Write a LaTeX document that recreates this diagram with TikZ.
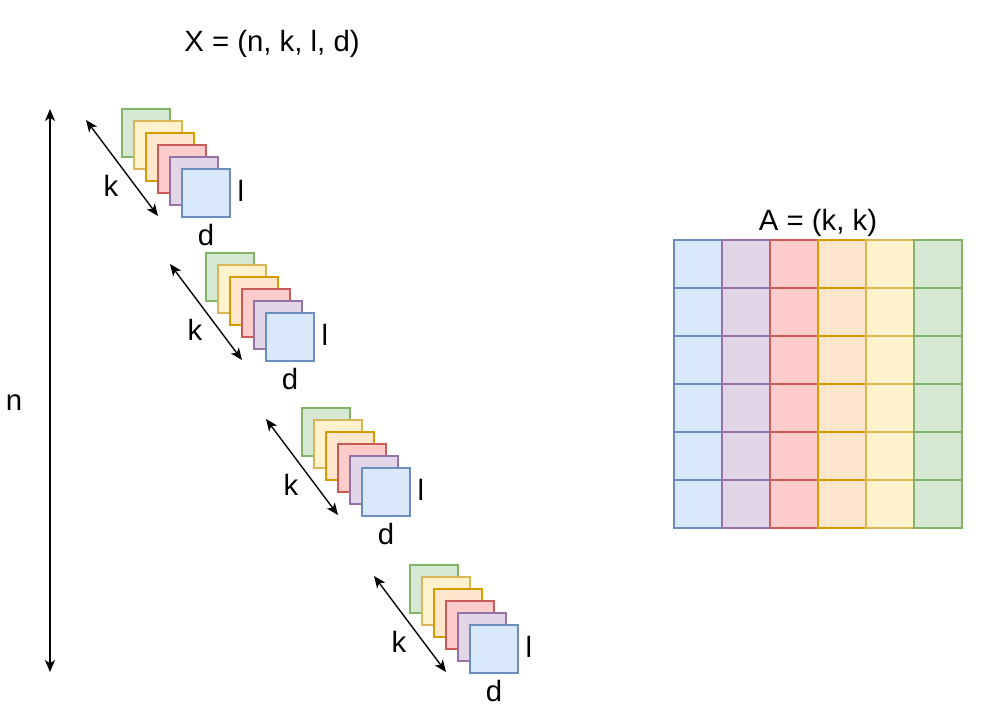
\documentclass[tikz,border=0pt]{standalone}
\usepackage{fontspec}
\setmainfont{Liberation Sans}
\usetikzlibrary{arrows.meta}
\begin{document}
\begin{tikzpicture}[x=0.75pt, y=-0.75pt]
            \definecolor{blue_fill}{HTML}{DAE8FC}
            \definecolor{blue_line}{HTML}{6C8EBF}
            \definecolor{purple_fill}{HTML}{E1D5E7}
            \definecolor{purple_line}{HTML}{9673A6}
            \definecolor{red_fill}{HTML}{FFCCCC}
            \definecolor{red_line}{HTML}{C85A57}
            \definecolor{orange_fill}{HTML}{FFE6CC}
            \definecolor{orange_line}{HTML}{D79B00}
            \definecolor{yellow_fill}{HTML}{FFF2CC}
            \definecolor{yellow_line}{HTML}{D6B656}
            \definecolor{green_fill}{HTML}{D5E8D4}
            \definecolor{green_line}{HTML}{82B366}
            \tikzstyle{every node} = [font=\fontsize{22}{26}\selectfont]
            \tikzstyle{sq} = [draw, shape=rectangle, line width=1pt, inner sep=0pt, minimum size=36pt]
            \tikzstyle{sq_blue} = [sq, draw=blue_line, fill=blue_fill]
            \tikzstyle{sq_purple} = [sq, draw=purple_line, fill=purple_fill]
            \tikzstyle{sq_red} = [sq, draw=red_line, fill=red_fill]
            \tikzstyle{sq_orange} = [sq, draw=orange_line, fill=orange_fill]
            \tikzstyle{sq_yellow} = [sq, draw=yellow_line, fill=yellow_fill]
            \tikzstyle{sq_green} = [sq, draw=green_line, fill=green_fill]
            \tikzstyle{ann} = [draw=none, fill=none, text=black, inner sep=0pt]
            \tikzstyle{dim} = [line width=1pt, black, {Stealth[length=9pt, width=7.5pt, inset=2.5pt]}-{Stealth[length=9pt, width=7.5pt, inset=2.5pt]}]
            \useasboundingbox (0,0) rectangle (981,723);
            % titles
            \node[ann] (tx) at (272,44) {X = (n, k, l, d)};
            \node[ann] (ta) at (818,223) {A = (k, k)};
            % n axis
            \coordinate (na) at (50,672);
            \coordinate (nb) at (50,109);
            \draw[dim] (na) -- (nb);
            \node[ann] (n) at (14,403) {n};
            % stack 1
            \node[sq_green] (g1) at (146,133) {};
            \node[sq_yellow] (y1) at (158,145) {};
            \node[sq_orange] (o1) at (170,157) {};
            \node[sq_red] (r1) at (182,169) {};
            \node[sq_purple] (p1) at (194,181) {};
            \node[sq_blue] (b1) at (206,193) {};
            \coordinate (k1a) at (86,120);
            \coordinate (k1b) at (158,216);
            \draw[dim] (k1a) -- (k1b);
            \node[ann] (k1) at (111,186) {k};
            \node[ann] (l1) at (241,191) {l};
            \node[ann] (d1) at (206,235) {d};
            % stack 2
            \node[sq_green] (g2) at (230,277) {};
            \node[sq_yellow] (y2) at (242,289) {};
            \node[sq_orange] (o2) at (254,301) {};
            \node[sq_red] (r2) at (266,313) {};
            \node[sq_purple] (p2) at (278,325) {};
            \node[sq_blue] (b2) at (290,337) {};
            \coordinate (k2a) at (170,264);
            \coordinate (k2b) at (242,360);
            \draw[dim] (k2a) -- (k2b);
            \node[ann] (k2) at (195,330) {k};
            \node[ann] (l2) at (325,335) {l};
            \node[ann] (d2) at (290,379) {d};
            % stack 3
            \node[sq_green] (g3) at (326,432) {};
            \node[sq_yellow] (y3) at (338,444) {};
            \node[sq_orange] (o3) at (350,456) {};
            \node[sq_red] (r3) at (362,468) {};
            \node[sq_purple] (p3) at (374,480) {};
            \node[sq_blue] (b3) at (386,492) {};
            \coordinate (k3a) at (266,419);
            \coordinate (k3b) at (338,515);
            \draw[dim] (k3a) -- (k3b);
            \node[ann] (k3) at (291,485) {k};
            \node[ann] (l3) at (421,490) {l};
            \node[ann] (d3) at (386,534) {d};
            % stack 4
            \node[sq_green] (g4) at (434,589) {};
            \node[sq_yellow] (y4) at (446,601) {};
            \node[sq_orange] (o4) at (458,613) {};
            \node[sq_red] (r4) at (470,625) {};
            \node[sq_purple] (p4) at (482,637) {};
            \node[sq_blue] (b4) at (494,649) {};
            \coordinate (k4a) at (374,576);
            \coordinate (k4b) at (446,672);
            \draw[dim] (k4a) -- (k4b);
            \node[ann] (k4) at (399,642) {k};
            \node[ann] (l4) at (529,647) {l};
            \node[ann] (d4) at (494,691) {d};
            % matrix A
            \node[sq_blue] (a11) at (698,264) {};
            \node[sq_blue] (a21) at (698,312) {};
            \node[sq_blue] (a31) at (698,360) {};
            \node[sq_blue] (a41) at (698,408) {};
            \node[sq_blue] (a51) at (698,456) {};
            \node[sq_blue] (a61) at (698,504) {};
            \node[sq_purple] (a12) at (746,264) {};
            \node[sq_purple] (a22) at (746,312) {};
            \node[sq_purple] (a32) at (746,360) {};
            \node[sq_purple] (a42) at (746,408) {};
            \node[sq_purple] (a52) at (746,456) {};
            \node[sq_purple] (a62) at (746,504) {};
            \node[sq_red] (a13) at (794,264) {};
            \node[sq_red] (a23) at (794,312) {};
            \node[sq_red] (a33) at (794,360) {};
            \node[sq_red] (a43) at (794,408) {};
            \node[sq_red] (a53) at (794,456) {};
            \node[sq_red] (a63) at (794,504) {};
            \node[sq_orange] (a14) at (842,264) {};
            \node[sq_orange] (a24) at (842,312) {};
            \node[sq_orange] (a34) at (842,360) {};
            \node[sq_orange] (a44) at (842,408) {};
            \node[sq_orange] (a54) at (842,456) {};
            \node[sq_orange] (a64) at (842,504) {};
            \node[sq_yellow] (a15) at (890,264) {};
            \node[sq_yellow] (a25) at (890,312) {};
            \node[sq_yellow] (a35) at (890,360) {};
            \node[sq_yellow] (a45) at (890,408) {};
            \node[sq_yellow] (a55) at (890,456) {};
            \node[sq_yellow] (a65) at (890,504) {};
            \node[sq_green] (a16) at (938,264) {};
            \node[sq_green] (a26) at (938,312) {};
            \node[sq_green] (a36) at (938,360) {};
            \node[sq_green] (a46) at (938,408) {};
            \node[sq_green] (a56) at (938,456) {};
            \node[sq_green] (a66) at (938,504) {};
\end{tikzpicture}
\end{document}
